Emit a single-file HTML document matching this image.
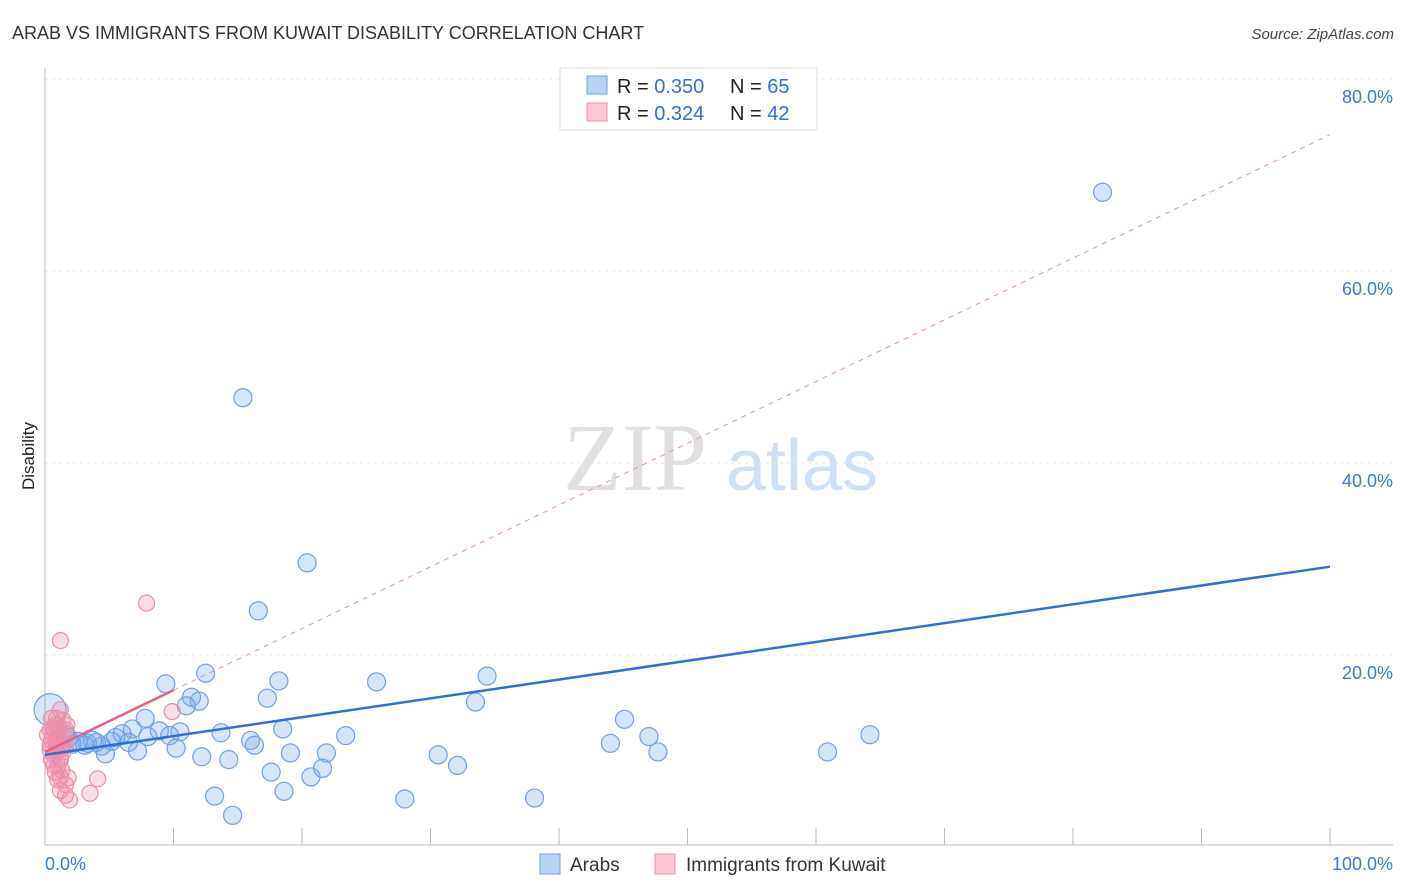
<!DOCTYPE html>
<html><head><meta charset="utf-8"><style>
body{margin:0;background:#fff;font-family:"Liberation Sans",sans-serif}
svg{display:block}
</style></head><body>
<svg id="chart" width="1406" height="892">
<text x="12" y="39" font-size="18" fill="#333">ARAB VS IMMIGRANTS FROM KUWAIT DISABILITY CORRELATION CHART</text>
<text x="1394" y="39" font-size="15" fill="#444" font-style="italic" text-anchor="end">Source: ZipAtlas.com</text>
<text x="34" y="456" font-size="17" fill="#222" text-anchor="middle" transform="rotate(-90 34 456)">Disability</text>
<g><text x="635" y="490" font-size="96" fill="#e0e0e0" font-family="Liberation Serif,serif" text-anchor="middle">ZIP</text><text x="802" y="490" font-size="72" fill="#cfe0f5" text-anchor="middle">atlas</text></g>
<g id="grid"></g><g id="marks"></g>
<g>
<rect x="560" y="68" width="257" height="62" fill="#fff" stroke="#ddd"/>
<rect x="587" y="76" width="20" height="18" fill="#b9d3f5" stroke="#6fa0e0"/>
<rect x="587" y="103" width="20" height="18" fill="#fbc8d6" stroke="#e890a8"/>
<text x="617" y="93" font-size="20" fill="#222">R = <tspan fill="#2f6fd6">0.350</tspan></text>
<text x="730" y="93" font-size="20" fill="#222">N = <tspan fill="#2f6fd6">65</tspan></text>
<text x="617" y="120" font-size="20" fill="#222">R = <tspan fill="#2f6fd6">0.324</tspan></text>
<text x="730" y="120" font-size="20" fill="#222">N = <tspan fill="#2f6fd6">42</tspan></text>
</g>
<g>
<rect x="540" y="854" width="20" height="20" fill="#b9d3f5" stroke="#6fa0e0"/><text x="570" y="871" font-size="19" fill="#333">Arabs</text>
<rect x="655" y="854" width="20" height="20" fill="#fbc8d6" stroke="#e890a8"/><text x="686" y="871" font-size="19" fill="#333">Immigrants from Kuwait</text>
</g>
<text x="45" y="870" font-size="18" fill="#3b78d8">0.0%</text>
<text x="1393" y="870" font-size="18" fill="#3b78d8" text-anchor="end">100.0%</text>
</svg>
<script>
const yTicks=[20,40,60,80];
const yTickLabels=["20.0%","40.0%","60.0%","80.0%"];
const xTicks=[10,20,30,40,50,60,70,80,90,100];
const arabX=[82.3,15.4,20.4,16.6,12.5,9.4,18.2,25.8,34.4,17.3,11.4,12.0,11.0,33.5,7.8,45.1,18.5,13.7,6.8,8.9,10.5,9.7,8.0,6.0,5.5,23.4,16.0,16.3,47.0,64.2,44.0,6.5,5.2,4.0,3.3,2.6,1.8,1.0,4.4,10.2,7.2,19.1,21.9,47.7,60.9,30.6,4.7,12.2,14.3,32.1,21.6,17.6,20.7,18.6,13.2,28.0,38.1,14.6,0.4,0.8,1.2,1.6,2.1,3.7,3.1];
const arabY=[68.2,46.8,29.6,24.6,18.1,17.0,17.3,17.2,17.8,15.5,15.6,15.2,14.7,15.1,13.4,13.3,12.3,11.9,12.3,12.1,12.0,11.6,11.5,11.8,11.4,11.6,11.1,10.6,11.5,11.7,10.8,10.9,11.0,10.9,10.8,11.0,11.4,11.1,10.5,10.3,10.0,9.8,9.8,9.9,9.9,9.6,9.7,9.4,9.1,8.5,8.2,7.8,7.3,5.8,5.3,5.0,5.1,3.3,14.3,12.2,10.6,11.7,10.7,11.1,10.6];
const kuwX=[7.9,1.2,9.9,1.2,1.4,0.8,0.4,1.0,0.5,0.9,1.3,0.4,0.7,1.2,1.6,0.5,1.0,1.3,0.8,1.2,1.6,1.8,1.9,3.5,4.1,0.2,0.6,0.9,1.6,1.5,0.4,0.9,1.2,0.8,1.1,1.4,1.7,0.5,1.0,1.6,0.7,1.2];
const kuwY=[25.4,21.5,14.1,14.3,13.2,12.7,12.2,11.7,11.1,10.6,10.3,10.1,9.6,9.3,10.6,9.1,8.5,8.0,7.8,7.2,6.5,7.2,4.9,5.6,7.1,11.7,12.4,13.4,12.2,11.4,10.6,9.9,9.1,11.1,12.4,9.9,12.7,13.4,7.0,5.4,8.5,5.9];
const arabTrend=[9.6,29.2];
const kuwTrend=[9.9,74.2];
const NS="http://www.w3.org/2000/svg";
const X=v=>45+v*12.85, Y=v=>847-v*9.6;
function mk(t,a,p){const e=document.createElementNS(NS,t);for(const k in a)e.setAttribute(k,a[k]);p.appendChild(e);return e;}
const g=document.getElementById('grid'),m=document.getElementById('marks');
yTicks.forEach((v,i)=>{
 const l=mk('line',{x1:45,x2:1393,y1:Y(v),y2:Y(v),stroke:'#e4e4e4','stroke-dasharray':'3,4'},g);
 
 
 const t=mk('text',{x:1393,y:Y(v)+24,'font-size':18,fill:'#3b78d8','text-anchor':'end'},g);
 t.textContent=yTickLabels[i];
 
 
});
const ax=mk('line',{x1:45,x2:1393,y1:845,y2:845,stroke:'#bbb'},g);


const ay=mk('line',{x1:45,x2:45,y1:68,y2:845,stroke:'#bbb'},g);


xTicks.forEach(v=>{const t=mk('line',{x1:X(v),x2:X(v),y1:828,y2:845,stroke:'#bbb'},g);
 
 });
arabX.forEach((x,i)=>{const c=mk('circle',{cx:X(x),cy:Y(arabY[i]),r:i==58?16:9,fill:'rgba(120,170,235,0.3)',stroke:'#6fa0e0','stroke-width':1.2},m);
 
 });
kuwX.forEach((x,i)=>{const c=mk('circle',{cx:X(x),cy:Y(kuwY[i]),r:8,fill:'rgba(245,140,170,0.3)',stroke:'#e890a8','stroke-width':1.2},m);
 
 });
const kd=mk('line',{x1:X(10),y1:Y(kuwTrend[0]+(kuwTrend[1]-kuwTrend[0])*0.1),x2:X(100),y2:Y(kuwTrend[1]),stroke:'#e890a8','stroke-dasharray':'5,5','stroke-width':1},m);


const ks=mk('line',{x1:X(0),y1:Y(kuwTrend[0]),x2:X(10),y2:Y(kuwTrend[0]+(kuwTrend[1]-kuwTrend[0])*0.1),stroke:'#e8608a','stroke-width':2.5},m);


const at=mk('line',{x1:X(0),y1:Y(arabTrend[0]),x2:X(100),y2:Y(arabTrend[1]),stroke:'#2f6fd6','stroke-width':2.5},m);


</script>
</body></html>
